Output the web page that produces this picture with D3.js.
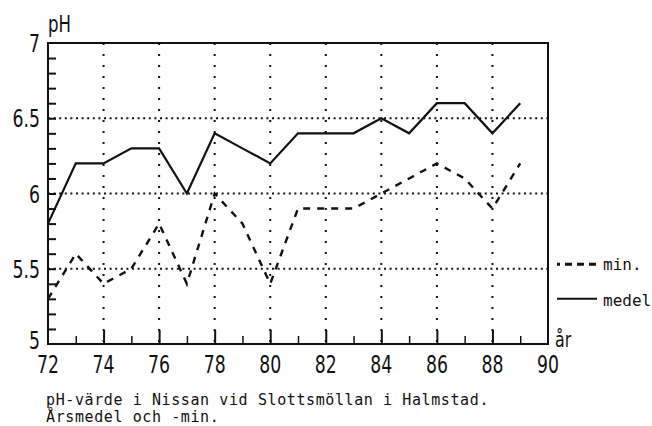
<!DOCTYPE html>
<html>
<head>
<meta charset="utf-8">
<script src="https://cdn.jsdelivr.net/npm/d3@7"></script>
<style>
  body { margin: 0; background: #fff; }
  text { font-family: "DejaVu Sans", sans-serif; fill: #111; }
  text.mono { font-family: "DejaVu Sans Mono", monospace; }
</style>
</head>
<body>
<div id="chart"></div>
<script>
// data
const years = [72, 73, 74, 75, 76, 77, 78, 79, 80, 81, 82, 83, 84, 85, 86, 87, 88, 89];
const medel = [5.8, 6.2, 6.2, 6.3, 6.3, 6.0, 6.4, 6.3, 6.2, 6.4, 6.4, 6.4, 6.5, 6.4, 6.6, 6.6, 6.4, 6.6];
const minv  = [5.3, 5.6, 5.4, 5.5, 5.8, 5.4, 6.0, 5.8, 5.4, 5.9, 5.9, 5.9, 6.0, 6.1, 6.2, 6.1, 5.9, 6.2];
const xTicks = [72, 74, 76, 78, 80, 82, 84, 86, 88, 90];
const yTicks = [5, 5.5, 6, 6.5, 7];
const yLabels = ["5", "5.5", "6", "6.5", "7"];

const margin = {top: 43, right: 104, bottom: 82, left: 48},
  width = 652 - margin.left - margin.right,
  height = 426 - margin.top - margin.bottom;

const svg = d3.select("#chart")
  .append("svg")
  .attr("width", 652)
  .attr("height", 426)
  .append("g")
  .attr("transform", `translate(${margin.left}, ${margin.top})`);

const x = d3.scaleLinear().domain([72, 90]).range([0, width]);
const y = d3.scaleLinear().domain([5, 7]).range([height, 0]);

// tall narrow letters like the old plotter font
const narrow = (sel, px, py) => sel.attr("transform", `translate(${px}, ${py}) scale(0.72, 1)`);

// dotted grid
svg.append("g")
  .selectAll("line")
  .data(xTicks.slice(1, -1))
  .join("line")
    .attr("x1", d => x(d)).attr("x2", d => x(d))
    .attr("y1", 0).attr("y2", height)
    .attr("stroke", "#111")
    .attr("stroke-width", 2)
    .attr("stroke-dasharray", "2,9");
svg.append("g")
  .selectAll("line")
  .data(yTicks.slice(1, -1))
  .join("line")
    .attr("x1", 0).attr("x2", width)
    .attr("y1", d => y(d)).attr("y2", d => y(d))
    .attr("stroke", "#111")
    .attr("stroke-width", 2)
    .attr("stroke-dasharray", "2,3.6");

// frame
svg.append("rect")
  .attr("width", width)
  .attr("height", height)
  .attr("fill", "none")
  .attr("stroke", "#111")
  .attr("stroke-width", 2);

// y ticks (every 0.1, inward)
svg.append("g")
  .call(d3.axisLeft(y).tickValues(d3.range(51, 70).map(d => d / 10)).tickSize(-8).tickFormat(""))
  .call(g => g.select(".domain").remove())
  .selectAll("line").attr("stroke", "#111").attr("stroke-width", 2);

// x ticks (major even, minor odd)
svg.append("g")
  .attr("transform", `translate(0, ${height})`)
  .call(d3.axisBottom(x).tickValues(xTicks.slice(1, -1)).tickSize(-14).tickFormat(""))
  .call(g => g.select(".domain").remove())
  .selectAll("line").attr("stroke", "#111").attr("stroke-width", 2);
svg.append("g")
  .attr("transform", `translate(0, ${height})`)
  .call(d3.axisBottom(x).tickValues(d3.range(73, 90, 2)).tickSize(-8).tickFormat(""))
  .call(g => g.select(".domain").remove())
  .selectAll("line").attr("stroke", "#111").attr("stroke-width", 1.5);

// tick labels
svg.append("g")
  .selectAll("text")
  .data(xTicks)
  .join("text")
    .attr("transform", d => `translate(${x(d)}, ${height + 29}) scale(0.72, 1)`)
    .attr("text-anchor", "middle")
    .style("font-size", "24px")
    .text(d => d);
svg.append("g")
  .selectAll("text")
  .data(yTicks)
  .join("text")
    .attr("transform", d => `translate(-8, ${y(d) + (d === 5 ? 5 : 9)}) scale(0.72, 1)`)
    .attr("text-anchor", "end")
    .style("font-size", "24px")
    .text((d, i) => yLabels[i]);

svg.append("text")
  .call(narrow, 0, -11)
  .style("font-size", "23px")
  .text("pH");
svg.append("text")
  .call(narrow, width + 7, height + 3)
  .style("font-size", "22px")
  .text("år");

// lines
const line = d3.line()
  .x((d, i) => x(years[i]))
  .y(d => y(d));

svg.append("path")
  .datum(medel)
  .attr("fill", "none")
  .attr("stroke", "#111")
  .attr("stroke-width", 2.2)
  .attr("d", line);

svg.append("path")
  .datum(minv)
  .attr("fill", "none")
  .attr("stroke", "#111")
  .attr("stroke-width", 2.4)
  .attr("stroke-dasharray", "7,7")
  .attr("d", line);

// legend
const legend = svg.append("g").attr("transform", `translate(${width + 9}, 0)`);
legend.append("line")
  .attr("x1", 0).attr("x2", 43)
  .attr("y1", y(5.53)).attr("y2", y(5.53))
  .attr("stroke", "#111").attr("stroke-width", 3)
  .attr("stroke-dasharray", "3,5,7,5,7,5,7,5,4");
legend.append("text")
  .attr("class", "mono")
  .attr("x", 46).attr("y", y(5.53) + 6)
  .style("font-size", "16px")
  .text("min.");
legend.append("line")
  .attr("x1", 0).attr("x2", 40)
  .attr("y1", y(5.3)).attr("y2", y(5.3))
  .attr("stroke", "#111").attr("stroke-width", 2);
legend.append("text")
  .attr("class", "mono")
  .attr("x", 46).attr("y", y(5.3) + 7)
  .style("font-size", "16px")
  .text("medel");

// caption
svg.append("text")
  .attr("class", "mono")
  .attr("x", -2).attr("y", height + 61)
  .style("font-size", "15px")
  .style("letter-spacing", "0.6px")
  .text("pH-värde i Nissan vid Slottsmöllan i Halmstad.");
svg.append("text")
  .attr("class", "mono")
  .attr("x", -2).attr("y", height + 78)
  .style("font-size", "15px")
  .style("letter-spacing", "0.6px")
  .text("Årsmedel och -min.");
</script>
</body>
</html>
